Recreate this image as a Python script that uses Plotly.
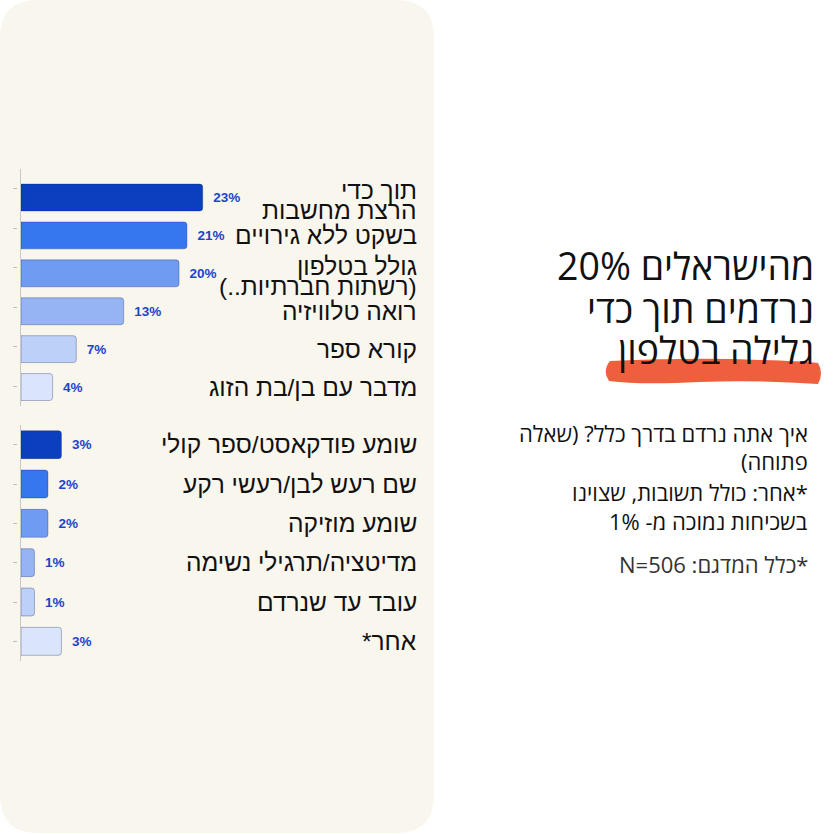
import plotly.graph_objects as go

W, H = 834, 834

# chart data
top_labels = [
    "תוך כדי<br>הרצת מחשבות",
    "בשקט ללא גירויים",
    "גולל בטלפון<br>(רשתות חברתיות..)",
    "רואה טלוויזיה",
    "קורא ספר",
    "מדבר עם בן/בת הזוג",
]
top_values = [23, 21, 20, 13, 7, 4]

bottom_labels = [
    "שומע פודקאסט/ספר קולי",
    "שם רעש לבן/רעשי רקע",
    "שומע מוזיקה",
    "מדיטציה/תרגילי נשימה",
    "עובד עד שנרדם",
    "אחר*",
]
bottom_values = [3, 2, 2, 1, 1, 3]

bar_colors = ["#0b3fc0", "#3676ee", "#6f9cf2", "#96b4f4", "#bdd0f7", "#dae4fa"]

title_lines = ["מהישראלים 20%", "נרדמים תוך כדי", "גלילה בטלפון"]
body_lines = ["איך אתה נרדם בדרך כלל? (שאלה", "פתוחה)", "*אחר: כולל תשובות, שצוינו", "בשכיחות נמוכה מ- 1%"]
sample_note = "*כלל המדגם: N=506"

LABEL_FONT = "Arial, Liberation Sans, sans-serif"
SIDE_FONT = "Open Sans, DejaVu Sans, sans-serif"
PCT_BLUE = "#1c45c8"


def px(x):
    return x / W


def py(y):
    return 1 - y / H


def rtl(line):
    # right-to-left embedding so punctuation lands where it should
    return "\u202b" + line + "\u202c"


def rounded_rect(x0, y0, x1, y1, r):
    pts = [
        f"M {px(x0)},{py(y0 + r)}",
        f"Q {px(x0)},{py(y0)} {px(x0 + r)},{py(y0)}",
        f"L {px(x1 - r)},{py(y0)}",
        f"Q {px(x1)},{py(y0)} {px(x1)},{py(y0 + r)}",
        f"L {px(x1)},{py(y1 - r)}",
        f"Q {px(x1)},{py(y1)} {px(x1 - r)},{py(y1)}",
        f"L {px(x0 + r)},{py(y1)}",
        f"Q {px(x0)},{py(y1)} {px(x0)},{py(y1 - r)}",
        "Z",
    ]
    return " ".join(pts)


def brush_stroke():
    pts = [
        f"M {px(610)},{py(361)}",
        f"Q {px(700)},{py(357)} {px(760)},{py(360)}",
        f"Q {px(800)},{py(361)} {px(818)},{py(363)}",
        f"Q {px(824)},{py(373)} {px(818)},{py(384)}",
        f"Q {px(760)},{py(380)} {px(700)},{py(382)}",
        f"Q {px(640)},{py(385)} {px(609)},{py(381)}",
        f"Q {px(602)},{py(371)} {px(610)},{py(361)}",
        "Z",
    ]
    return " ".join(pts)


fig = go.Figure()

for labels, values, xa, ya, ta in [
    (top_labels, top_values, "x", "y", "y3"),
    (bottom_labels, bottom_values, "x2", "y2", "y4"),
]:
    fig.add_trace(
        go.Bar(
            x=values,
            y=labels,
            orientation="h",
            xaxis=xa,
            yaxis=ya,
            marker=dict(
                color=bar_colors,
                line=dict(color="rgba(10,30,90,0.3)", width=1),
                cornerradius=3,
            ),
            texttemplate="\u00a0\u00a0<b>%{x}%</b>",
            textposition="outside",
            textfont=dict(family=LABEL_FONT, size=13.5, color=PCT_BLUE),
            cliponaxis=False,
            hoverinfo="skip",
            showlegend=False,
        )
    )
    # empty trace so the small tick-mark axis gets drawn
    fig.add_trace(go.Scatter(x=[], y=[], xaxis=xa, yaxis=ta, hoverinfo="skip", showlegend=False))

x_domain = [px(21), px(420)]
top_domain = [py(406), py(169)]
bottom_domain = [py(661), py(425)]

cat_axis = dict(
    type="category",
    autorange="reversed",
    showticklabels=False,
    ticks="",
    showgrid=False,
    zeroline=False,
    showline=True,
    linecolor="#c8c8c8",
    linewidth=1,
)
tick_axis = dict(
    anchor="free",
    position=px(17),
    showticklabels=False,
    ticks="outside",
    ticklen=4,
    tickcolor="#bdbdbd",
    showgrid=False,
    zeroline=False,
    showline=False,
)
val_axis = dict(visible=False, showgrid=False, zeroline=False, domain=x_domain)

fig.update_layout(
    width=W,
    height=H,
    margin=dict(l=0, r=0, t=0, b=0),
    paper_bgcolor="white",
    plot_bgcolor="rgba(0,0,0,0)",
    bargap=0.29,
    xaxis=dict(val_axis, range=[0, 50.5], anchor="y"),
    xaxis2=dict(val_axis, range=[0, 29.6], anchor="y2"),
    yaxis=dict(cat_axis, domain=top_domain, anchor="x"),
    yaxis2=dict(cat_axis, domain=bottom_domain, anchor="x2"),
    yaxis3=dict(tick_axis, overlaying="y", range=[len(top_labels) - 0.5, -0.5],
                tickvals=list(range(len(top_labels)))),
    yaxis4=dict(tick_axis, overlaying="y2", range=[len(bottom_labels) - 0.5, -0.5],
                tickvals=list(range(len(bottom_labels)))),
    hovermode=False,
)

# cream panel behind the bars and the orange marker stroke under the headline
fig.add_shape(type="path", path=rounded_rect(0, 0, 434, 833, 38), xref="paper", yref="paper",
              fillcolor="#f9f6ee", line=dict(width=0), layer="below")
fig.add_shape(type="path", path=brush_stroke(), xref="paper", yref="paper",
              fillcolor="#ef5f3e", line=dict(width=0), layer="below")

# category labels, right-aligned at the panel's right side; wrapped labels get tight line spacing
for labels, yref in [(top_labels, "y"), (bottom_labels, "y2")]:
    for lab in labels:
        parts = lab.split("<br>")
        for i, part in enumerate(parts):
            fig.add_annotation(
                x=px(419), xref="paper", y=lab, yref=yref,
                text=rtl(part), showarrow=False,
                xanchor="right", yanchor="middle",
                yshift=(len(parts) - 1) / 2 * 20 - i * 20 - (3 if len(parts) > 1 else 0),
                font=dict(family=LABEL_FONT, size=24.5, color="#111111"),
            )

# headline
for line, y in zip(title_lines, [265, 309, 349]):
    fig.add_annotation(
        x=px(816), xref="paper", y=py(y), yref="paper",
        text=rtl(line), showarrow=False,
        xanchor="right", yanchor="middle",
        font=dict(family=SIDE_FONT, size=37.5, color="#111111"),
    )

# question text
for line, y in zip(body_lines, [433, 461, 492, 521]):
    fig.add_annotation(
        x=px(810), xref="paper", y=py(y), yref="paper",
        text=rtl(line), showarrow=False,
        xanchor="right", yanchor="middle",
        font=dict(family=SIDE_FONT, size=22, color="#111111"),
    )

fig.add_annotation(
    x=px(810), xref="paper", y=py(564), yref="paper",
    text=rtl(sample_note), showarrow=False,
    xanchor="right", yanchor="middle",
    font=dict(family=SIDE_FONT, size=22, color="#333333"),
)

# drop the browser's default page margin so the figure sits flush at the corner
fig.write_html(
    "out.html",
    config={"displayModeBar": False},
    post_script="document.body.style.margin='0';",
)
